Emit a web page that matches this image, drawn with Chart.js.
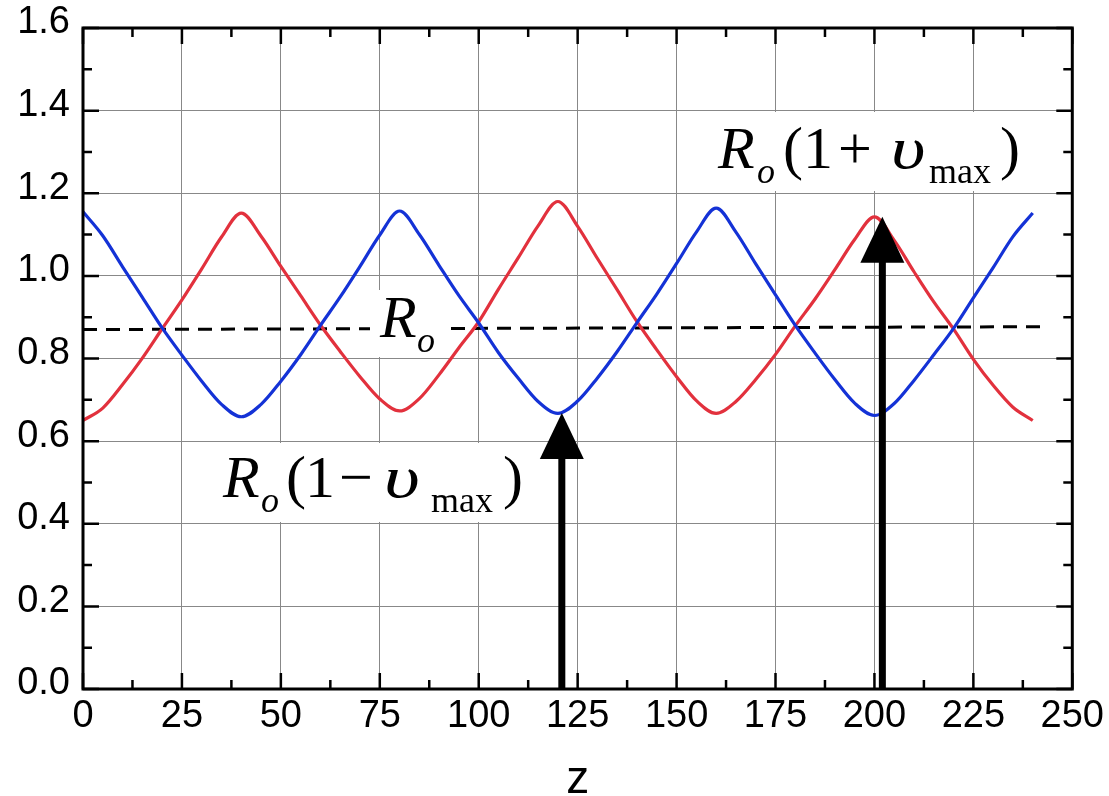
<!DOCTYPE html>
<html>
<head>
<meta charset="utf-8">
<script src="https://cdn.jsdelivr.net/npm/chart.js@4/dist/chart.umd.min.js"></script>
<style>
  html, body { margin: 0; padding: 0; background: #fff; }
  #wrap { width: 1109px; height: 796px; position: relative; }
</style>
</head>
<body>
<div id="wrap"><canvas id="c" width="1109" height="796"></canvas></div>
<script>
// ---- data ----
const zValues = [0,5,10,15,20,25,30,35,40,45,50,55,60,65,70,75,80,85,90,95,100,105,110,115,120,125,130,135,140,145,150,155,160,165,170,175,180,185,190,195,200,205,210,215,220,225,230,235,240];
const redValues = [
  0.650,0.680,0.737,0.801,0.872,0.942,1.017,1.094,1.152,
  1.096,1.023,0.952,0.881,0.817,0.756,0.702,0.673,
  0.703,0.761,0.826,0.889,0.968,1.044,1.121,1.180,
  1.120,1.042,0.966,0.889,0.821,0.756,0.698,0.667,
  0.696,0.749,0.810,0.879,0.944,1.015,1.088,1.143,
  1.086,1.010,0.937,0.871,0.798,0.735,0.682,0.650
];
const blueValues = [
  1.155,1.097,1.022,0.948,0.874,0.808,0.745,0.689,0.659,
  0.689,0.745,0.809,0.880,0.949,1.023,1.099,1.157,
  1.100,1.025,0.952,0.886,0.814,0.752,0.696,0.667,
  0.697,0.753,0.817,0.887,0.956,1.030,1.106,1.164,
  1.106,1.029,0.954,0.880,0.813,0.749,0.692,0.662,
  0.691,0.747,0.809,0.873,0.947,1.020,1.095,1.152
];
const refLineZ = [0, 243];
const refLineR = [0.870, 0.877];
const arrowZ = [121, 202];
const arrowR = [0.668, 1.143];
const xTickLabels = ['0','25','50','75','100','125','150','175','200','225','250'];
const yTickLabels = ['0.0','0.2','0.4','0.6','0.8','1.0','1.2','1.4','1.6'];
const xAxisTitle = 'z';

// ---- styles ----
const RED = '#e2313d';
const BLUE = '#1432d6';
const GRID = '#888888';
const SERIF = '"Liberation Serif","Times New Roman",serif';
const SANS = '"Liberation Sans",Arial,Helvetica,sans-serif';

const toPts = (xs, ys) => xs.map((x, i) => ({x: x, y: ys[i]}));

// text labels: pieces with pixel layout
const labelBoxes = [
  {x0: 370, y0: 290, x1: 447, y1: 357},
  {x0: 214, y0: 443, x1: 530, y1: 522},
  {x0: 712, y0: 112, x1: 1030, y1: 191}
];
const labelPieces = [
  // middle R_o
  {t: 'R', x: 380, y: 337, f: 'italic 60px ' + SERIF},
  {t: 'o', x: 417, y: 352, f: 'italic 36px ' + SERIF},
  // lower R_o(1 - v_max)
  {t: 'R', x: 223, y: 497, f: 'italic 60px ' + SERIF},
  {t: 'o', x: 261, y: 512, f: 'italic 36px ' + SERIF},
  {t: '(', x: 286, y: 497, f: '60px ' + SERIF},
  {t: '1', x: 305, y: 497, f: '60px ' + SERIF},
  {t: '\u2212', x: 339, y: 497, f: '60px ' + SERIF},
  {t: '\u03C5', x: 384, y: 497, f: 'italic 60px ' + SERIF, sx: 1.3},
  {t: 'max', x: 431, y: 512, f: '36px ' + SERIF},
  {t: ')', x: 503, y: 497, f: '60px ' + SERIF},
  // upper R_o(1 + v_max)
  {t: 'R', x: 718, y: 168, f: 'italic 60px ' + SERIF},
  {t: 'o', x: 757, y: 183, f: 'italic 36px ' + SERIF},
  {t: '(', x: 783, y: 168, f: '60px ' + SERIF},
  {t: '1', x: 803, y: 168, f: '60px ' + SERIF},
  {t: '+', x: 838, y: 168, f: '60px ' + SERIF},
  {t: '\u03C5', x: 891, y: 168, f: 'italic 60px ' + SERIF, sx: 1.25},
  {t: 'max', x: 929, y: 183, f: '36px ' + SERIF},
  {t: ')', x: 1000, y: 168, f: '60px ' + SERIF}
];

const overlayPlugin = {
  id: 'overlay',
  afterDatasetDraw(chart, args) {
    if (args.index !== 2) return;
    const ctx = chart.ctx;
    ctx.save();
    ctx.fillStyle = '#ffffff';
    labelBoxes.forEach(b => ctx.fillRect(b.x0, b.y0, b.x1 - b.x0, b.y1 - b.y0));
    ctx.fillStyle = '#000';
    ctx.textBaseline = 'alphabetic';
    ctx.textAlign = 'left';
    labelPieces.forEach(p => {
      ctx.font = p.f;
      if (p.sx) {
        ctx.save();
        ctx.translate(p.x, p.y);
        ctx.scale(p.sx, 1);
        ctx.fillText(p.t, 0, 0);
        ctx.restore();
      } else {
        ctx.fillText(p.t, p.x, p.y);
      }
    });
    ctx.restore();
  },
  afterDatasetsDraw(chart) {
    const ctx = chart.ctx;
    const xs = chart.scales.x, ys = chart.scales.y;
    const a = chart.chartArea;
    ctx.save();
    // arrows
    ctx.fillStyle = '#000';
    arrowZ.forEach((z, i) => {
      const px = xs.getPixelForValue(z);
      const tip = ys.getPixelForValue(arrowR[i]);
      const base = ys.getPixelForValue(0);
      const headH = 46, headW = 44, shaft = 7;
      ctx.fillRect(px - shaft / 2, tip + headH - 2, shaft, base - (tip + headH - 2));
      ctx.beginPath();
      ctx.moveTo(px, tip);
      ctx.lineTo(px - headW / 2, tip + headH);
      ctx.lineTo(px + headW / 2, tip + headH);
      ctx.closePath();
      ctx.fill();
    });
    // frame
    ctx.strokeStyle = '#000';
    ctx.lineWidth = 3;
    ctx.strokeRect(a.left, a.top, a.right - a.left, a.bottom - a.top);
    // inward ticks on all four sides
    ctx.lineWidth = 2.5;
    ctx.beginPath();
    for (let v = 0; v <= 250.001; v += 12.5) {
      const px = xs.getPixelForValue(v);
      const L = (Math.round(v / 12.5) % 2 === 0) ? 16 : 9;
      ctx.moveTo(px, a.bottom); ctx.lineTo(px, a.bottom - L);
      ctx.moveTo(px, a.top); ctx.lineTo(px, a.top + L);
    }
    for (let k = 0; k <= 16; k++) {
      const py = ys.getPixelForValue(k * 0.1);
      const L = (k % 2 === 0) ? 16 : 9;
      ctx.moveTo(a.left, py); ctx.lineTo(a.left + L, py);
      ctx.moveTo(a.right, py); ctx.lineTo(a.right - L, py);
    }
    ctx.stroke();
    ctx.restore();
  }
};

new Chart(document.getElementById('c'), {
  type: 'line',
  data: {
    datasets: [
      {
        label: 'blue', data: toPts(zValues, blueValues),
        borderColor: BLUE, borderWidth: 3.2, pointRadius: 0,
        cubicInterpolationMode: 'monotone', fill: false
      },
      {
        label: 'red', data: toPts(zValues, redValues),
        borderColor: RED, borderWidth: 3.2, pointRadius: 0,
        cubicInterpolationMode: 'monotone', fill: false
      },
      {
        label: 'Ro', data: toPts(refLineZ, refLineR),
        borderColor: '#000', borderWidth: 3, borderDash: [14, 9],
        pointRadius: 0, fill: false, tension: 0
      }
    ]
  },
  options: {
    responsive: false,
    animation: false,
    events: [],
    layout: { padding: { left: 0, right: 34, top: 28, bottom: 0 } },
    plugins: { legend: { display: false }, tooltip: { enabled: false } },
    scales: {
      x: {
        type: 'linear', min: 0, max: 250,
        border: { display: false },
        grid: { color: GRID, lineWidth: 1, drawTicks: false },
        ticks: {
          stepSize: 25, padding: 5, color: '#000', maxRotation: 0,
          font: { family: SANS, size: 38 },
          callback: (v, i) => xTickLabels[i]
        },
        title: {
          display: true, text: xAxisTitle, color: '#000',
          font: { family: SANS, size: 46, lineHeight: 0.68 },
          padding: { top: 0, bottom: 0 }
        },
        afterFit: (s) => { s.height = 107; }
      },
      y: {
        min: 0, max: 1.6,
        border: { display: false },
        grid: { color: GRID, lineWidth: 1, drawTicks: false },
        ticks: {
          stepSize: 0.2, padding: 13, color: '#000', labelOffset: -5,
          font: { family: SANS, size: 38, lineHeight: 0.6 },
          callback: (v, i) => yTickLabels[i]
        },
        afterFit: (s) => { s.width = 83; }
      }
    }
  },
  plugins: [overlayPlugin]
});
</script>
</body>
</html>
